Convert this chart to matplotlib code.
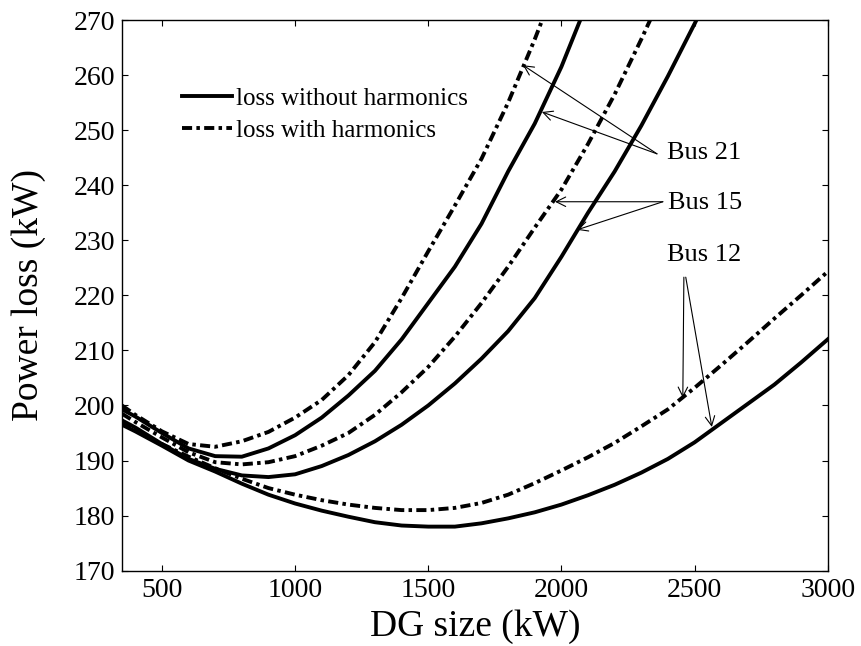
import matplotlib.pyplot as plt

plt.rcParams['font.family'] = ['Liberation Serif', 'DejaVu Serif']

# DG size (kW) grid
dg_size = [350, 400, 500, 600, 700, 800, 900, 1000, 1100, 1200, 1300, 1400,
           1500, 1600, 1700, 1800, 1900, 2000, 2100, 2200, 2300, 2400, 2500,
           2600, 2700, 2800, 2900, 3000]

# power loss (kW)
bus21_loss = [199.3, 198.0, 195.0, 192.2, 190.8, 190.7, 192.2, 194.6, 197.8,
              201.8, 206.3, 212.0, 218.6, 225.2, 233.0, 242.5, 251.2, 261.5, 273.5]
bus21_harm = [200.0, 198.3, 195.3, 193.0, 192.5, 193.5, 195.2, 197.8, 201.0,
              205.5, 211.5, 219.5, 228.0, 236.3, 244.8, 255.0, 266.5, 279.0]
bus15_loss = [197.3, 196.0, 193.0, 190.3, 188.5, 187.3, 187.0, 187.5, 189.0,
              191.0, 193.5, 196.5, 200.0, 204.0, 208.5, 213.5, 219.5, 227.0,
              235.0, 242.5, 250.8, 259.8, 269.3, 279.0]
bus15_harm = [198.5, 197.0, 194.2, 191.5, 189.7, 189.3, 189.7, 190.8, 192.7,
              195.0, 198.3, 202.4, 207.0, 212.5, 218.6, 225.2, 232.3, 239.2,
              247.5, 256.5, 266.5, 277.0]
bus12_loss = [196.5, 195.3, 192.7, 190.0, 188.0, 185.8, 183.8, 182.2, 180.9,
              179.8, 178.8, 178.2, 178.0, 178.0, 178.6, 179.5, 180.6, 182.0,
              183.7, 185.6, 187.8, 190.3, 193.3, 196.8, 200.3, 203.8, 207.8, 212.0]
bus12_harm = [196.8, 195.5, 193.0, 190.7, 188.6, 186.7, 185.0, 183.8, 182.8,
              182.0, 181.4, 181.0, 181.0, 181.4, 182.3, 183.8, 185.9, 188.2,
              190.6, 193.2, 196.2, 199.3, 203.2, 207.3, 211.5, 215.8, 220.0, 224.3]

x_ticks = [500, 1000, 1500, 2000, 2500, 3000]
y_ticks = list(range(170, 271, 10))

fig = plt.figure(figsize=(8.61, 6.46), dpi=100)
ax = fig.add_axes([0.1417, 0.1166, 0.8196, 0.8524])

lw = 2.8
dd = (2.6, 1.1, 0.9, 1.1)

ax.plot(dg_size[:len(bus21_loss)], bus21_loss, color='k', lw=lw, label='loss without harmonics')
ax.plot(dg_size[:len(bus21_harm)], bus21_harm, color='k', lw=lw, dashes=dd,
        dash_capstyle='butt', label='loss with harmonics')
ax.plot(dg_size[:len(bus15_loss)], bus15_loss, color='k', lw=lw)
ax.plot(dg_size[:len(bus15_harm)], bus15_harm, color='k', lw=lw, dashes=dd, dash_capstyle='butt')
ax.plot(dg_size, bus12_loss, color='k', lw=lw)
ax.plot(dg_size, bus12_harm, color='k', lw=lw, dashes=dd, dash_capstyle='butt')

ax.set_xlim(350, 3000)
ax.set_ylim(170, 270)
ax.set_xticks(x_ticks)
ax.set_yticks(y_ticks)
ax.tick_params(direction='in', top=True, right=True, length=4.5, width=0.8,
               labelsize=20, pad=5)
for s in ax.spines.values():
    s.set_linewidth(1.0)

ax.set_xlabel('DG size (kW)', fontsize=27, labelpad=5)
ax.set_ylabel('Power loss (kW)', fontsize=27, labelpad=20)

ax.legend(loc='upper left', bbox_to_anchor=(0.085, 0.878), frameon=False,
          fontsize=18, handlelength=2.0, handletextpad=0.15, labelspacing=0.4,
          borderpad=0, borderaxespad=0)

# bus annotations
arrow = dict(arrowstyle='->', color='k', lw=0.8, shrinkA=0, shrinkB=0, mutation_scale=17)
ax.text(2396, 245.8, 'Bus 21', fontsize=19, va='center', ha='left')
ax.annotate('', xy=(1856, 261.8), xytext=(2359, 245.7), arrowprops=arrow)
ax.annotate('', xy=(1927, 253.3), xytext=(2359, 245.7), arrowprops=arrow)

ax.text(2400, 236.8, 'Bus 15', fontsize=19, va='center', ha='left')
ax.annotate('', xy=(1976, 237.0), xytext=(2381, 237.0), arrowprops=arrow)
ax.annotate('', xy=(2059, 231.9), xytext=(2381, 237.0), arrowprops=arrow)

ax.text(2396, 227.3, 'Bus 12', fontsize=19, va='center', ha='left')
ax.annotate('', xy=(2456, 201.4), xytext=(2460, 223.3), arrowprops=arrow)
ax.annotate('', xy=(2565, 196.1), xytext=(2467, 223.3), arrowprops=arrow)

fig.savefig('out.png', dpi=100)
